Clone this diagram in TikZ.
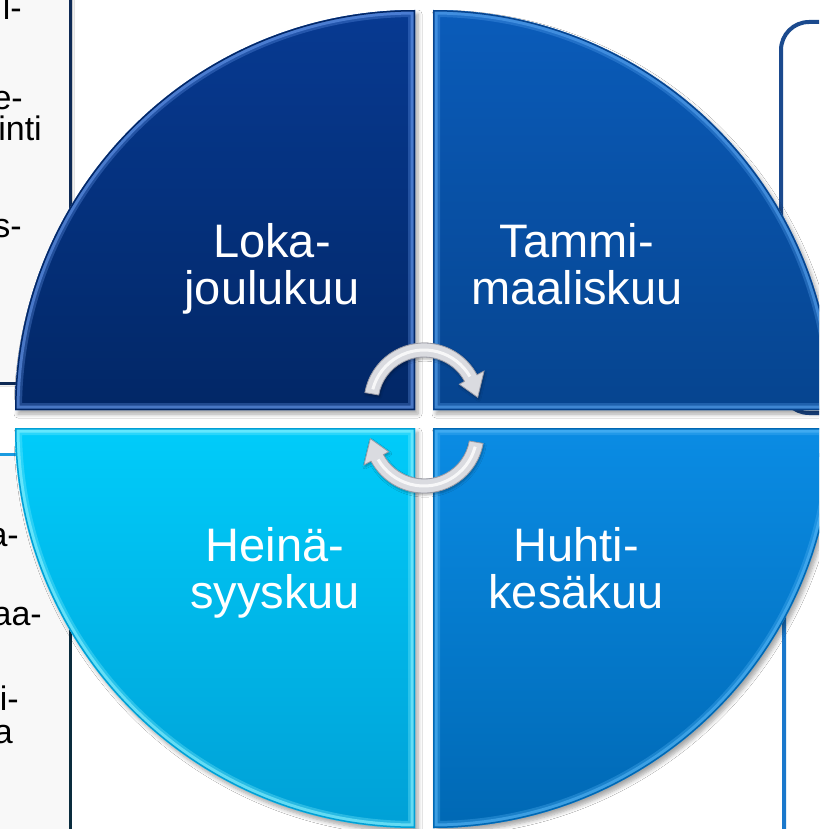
\documentclass[tikz,border=0pt]{standalone}
\usepackage{fontspec}
\setmainfont{Liberation Sans}
\usetikzlibrary{shadows.blur}
\definecolor{tlTop}{HTML}{073A92}
\definecolor{tlBot}{HTML}{022766}
\definecolor{tlHi}{HTML}{6A9CF0}
\definecolor{trTop}{HTML}{0A5CBA}
\definecolor{trBot}{HTML}{06448F}
\definecolor{trHi}{HTML}{5AA6F2}
\definecolor{blTop}{HTML}{00CCFA}
\definecolor{blBot}{HTML}{00A0D6}
\definecolor{blHi}{HTML}{8AF2FF}
\definecolor{brTop}{HTML}{0A8CE4}
\definecolor{brBot}{HTML}{0068B4}
\definecolor{brHi}{HTML}{58B8F8}
\definecolor{boxFill}{HTML}{F8F8F8}
\definecolor{navyEdge}{HTML}{0E2A55}
\definecolor{lightEdge}{HTML}{1A9BE0}
\definecolor{darkTeal}{HTML}{0A2C3E}
\definecolor{trBox}{HTML}{1B4A8E}
\definecolor{brBox}{HTML}{1A78CC}
\definecolor{silverFill}{HTML}{DADBE0}
\definecolor{silverEdge}{HTML}{9A9BA6}
\tikzset{
  lbl/.style={text=white, align=center, anchor=north, inner sep=0pt,
    font=\fontsize{47}{47}\selectfont},
  frag/.style={anchor=base east, inner sep=0pt, text=black,
    font=\fontsize{34}{34}\selectfont},
  qshadow/.style={blur shadow={shadow xshift=3pt, shadow yshift=-4pt,
    shadow opacity=35, shadow blur steps=6, shadow blur radius=4pt}},
  silver/.style={fill=silverFill, draw=silverEdge, line width=0.8pt},
}
\def\qTL{(415,410) -- (15,410) arc[start angle=180,end angle=270,radius=400] -- cycle}
\def\qTR{(433,410) -- (433,10) arc[start angle=270,end angle=360,radius=400] -- cycle}
\def\qBR{(433,428) -- (833,428) arc[start angle=0,end angle=90,radius=400] -- cycle}
\def\qBL{(415,428) -- (415,828) arc[start angle=90,end angle=180,radius=400] -- cycle}
\begin{document}
\begin{tikzpicture}[x=1pt,y=-1pt]
\useasboundingbox (0,0) rectangle (819,829);
\fill[white] (0,0) rectangle (819,829);
\clip (0,0) rectangle (819,829);

% left boxes
\node[fill=boxFill, draw=navyEdge, line width=3pt, minimum width=100pt,
  minimum height=413pt, inner sep=0pt, blur shadow={shadow xshift=2pt, shadow yshift=-1pt, shadow opacity=40}] (lb1) at (20,176.5) {};
\node[fill=boxFill, minimum width=100pt, minimum height=445pt, inner sep=0pt] (lb2) at (20,677.5) {};
\draw[darkTeal, line width=3pt] (lb2.north east) -- (lb2.south east);
\draw[lightEdge, line width=3pt] (lb2.north west) -- (lb2.north east);

\node[frag] (f1) at (22,20) {l-};
\node[frag] (f2) at (23,110) {e-};
\node[frag] (f3) at (42,141) {inti};
\node[frag] (f4) at (22,237) {s-};
\node[frag] (f5) at (19,546) {a-};
\node[frag] (f6) at (42,625) {aa-};
\node[frag] (f7) at (19,710) {i-};
\node[frag] (f8) at (13,743) {a};

% right boxes
\node[fill=white, draw=trBox, line width=4pt, rounded corners=28pt,
  minimum width=200pt, minimum height=391pt, inner sep=0pt] (rb1) at (881,217.5) {};
\node[fill=white, draw=brBox, line width=4pt, rounded corners=28pt,
  minimum width=200pt, minimum height=445pt, inner sep=0pt] (rb2) at (884,677.5) {};

% quadrants
\path[qshadow, top color=tlTop, bottom color=tlBot] \qTL;
\begin{scope}
  \clip \qTL;
  \draw[tlHi, line width=14pt, opacity=.3] \qTL;
  \draw[tlHi, line width=9pt, opacity=.55] \qTL;
  \draw[tlBot, line width=3pt] \qTL;
\end{scope}
\path[qshadow, top color=trTop, bottom color=trBot] \qTR;
\begin{scope}
  \clip \qTR;
  \draw[trHi, line width=14pt, opacity=.3] \qTR;
  \draw[trHi, line width=9pt, opacity=.55] \qTR;
  \draw[trBot, line width=3pt] \qTR;
\end{scope}
\path[qshadow, top color=blTop, bottom color=blBot] \qBL;
\begin{scope}
  \clip \qBL;
  \draw[blHi, line width=14pt, opacity=.3] \qBL;
  \draw[blHi, line width=9pt, opacity=.6] \qBL;
  \draw[blBot, line width=3pt] \qBL;
\end{scope}
\path[qshadow, top color=brTop, bottom color=brBot] \qBR;
\begin{scope}
  \clip \qBR;
  \draw[brHi, line width=14pt, opacity=.3] \qBR;
  \draw[brHi, line width=9pt, opacity=.55] \qBR;
  \draw[brBot, line width=3pt] \qBR;
\end{scope}

% labels
\node[lbl] (loka) at (272,223) {Loka-\\joulukuu};
\node[lbl] (tammi) at (577,223) {Tammi-\\maaliskuu};
\node[lbl] (heina) at (275,527) {Heinä-\\syyskuu};
\node[lbl] (huhti) at (576,527) {Huhti-\\kesäkuu};

% cycle arrows
\begin{scope}[shift={(424,403)}]
  \path[silver, blur shadow={shadow xshift=1pt, shadow yshift=-2pt, shadow opacity=30}]
    (190:60) arc[start angle=190,end angle=332,radius=60] -- (332:68) -- (354:54)
    -- (332:40) -- (332:46) arc[start angle=332,end angle=190,radius=46] -- cycle;
  \draw[white, line width=3pt, opacity=.8] (195:53) arc[start angle=195,end angle=330,radius=53];
\end{scope}
\begin{scope}[shift={(424,433)}]
  \path[silver, blur shadow={shadow xshift=1pt, shadow yshift=-2pt, shadow opacity=30}]
    (10:60) arc[start angle=10,end angle=152,radius=60] -- (152:68) -- (174:54)
    -- (152:40) -- (152:46) arc[start angle=152,end angle=10,radius=46] -- cycle;
  \draw[white, line width=3pt, opacity=.8] (15:53) arc[start angle=15,end angle=150,radius=53];
\end{scope}
\end{tikzpicture}
\end{document}
